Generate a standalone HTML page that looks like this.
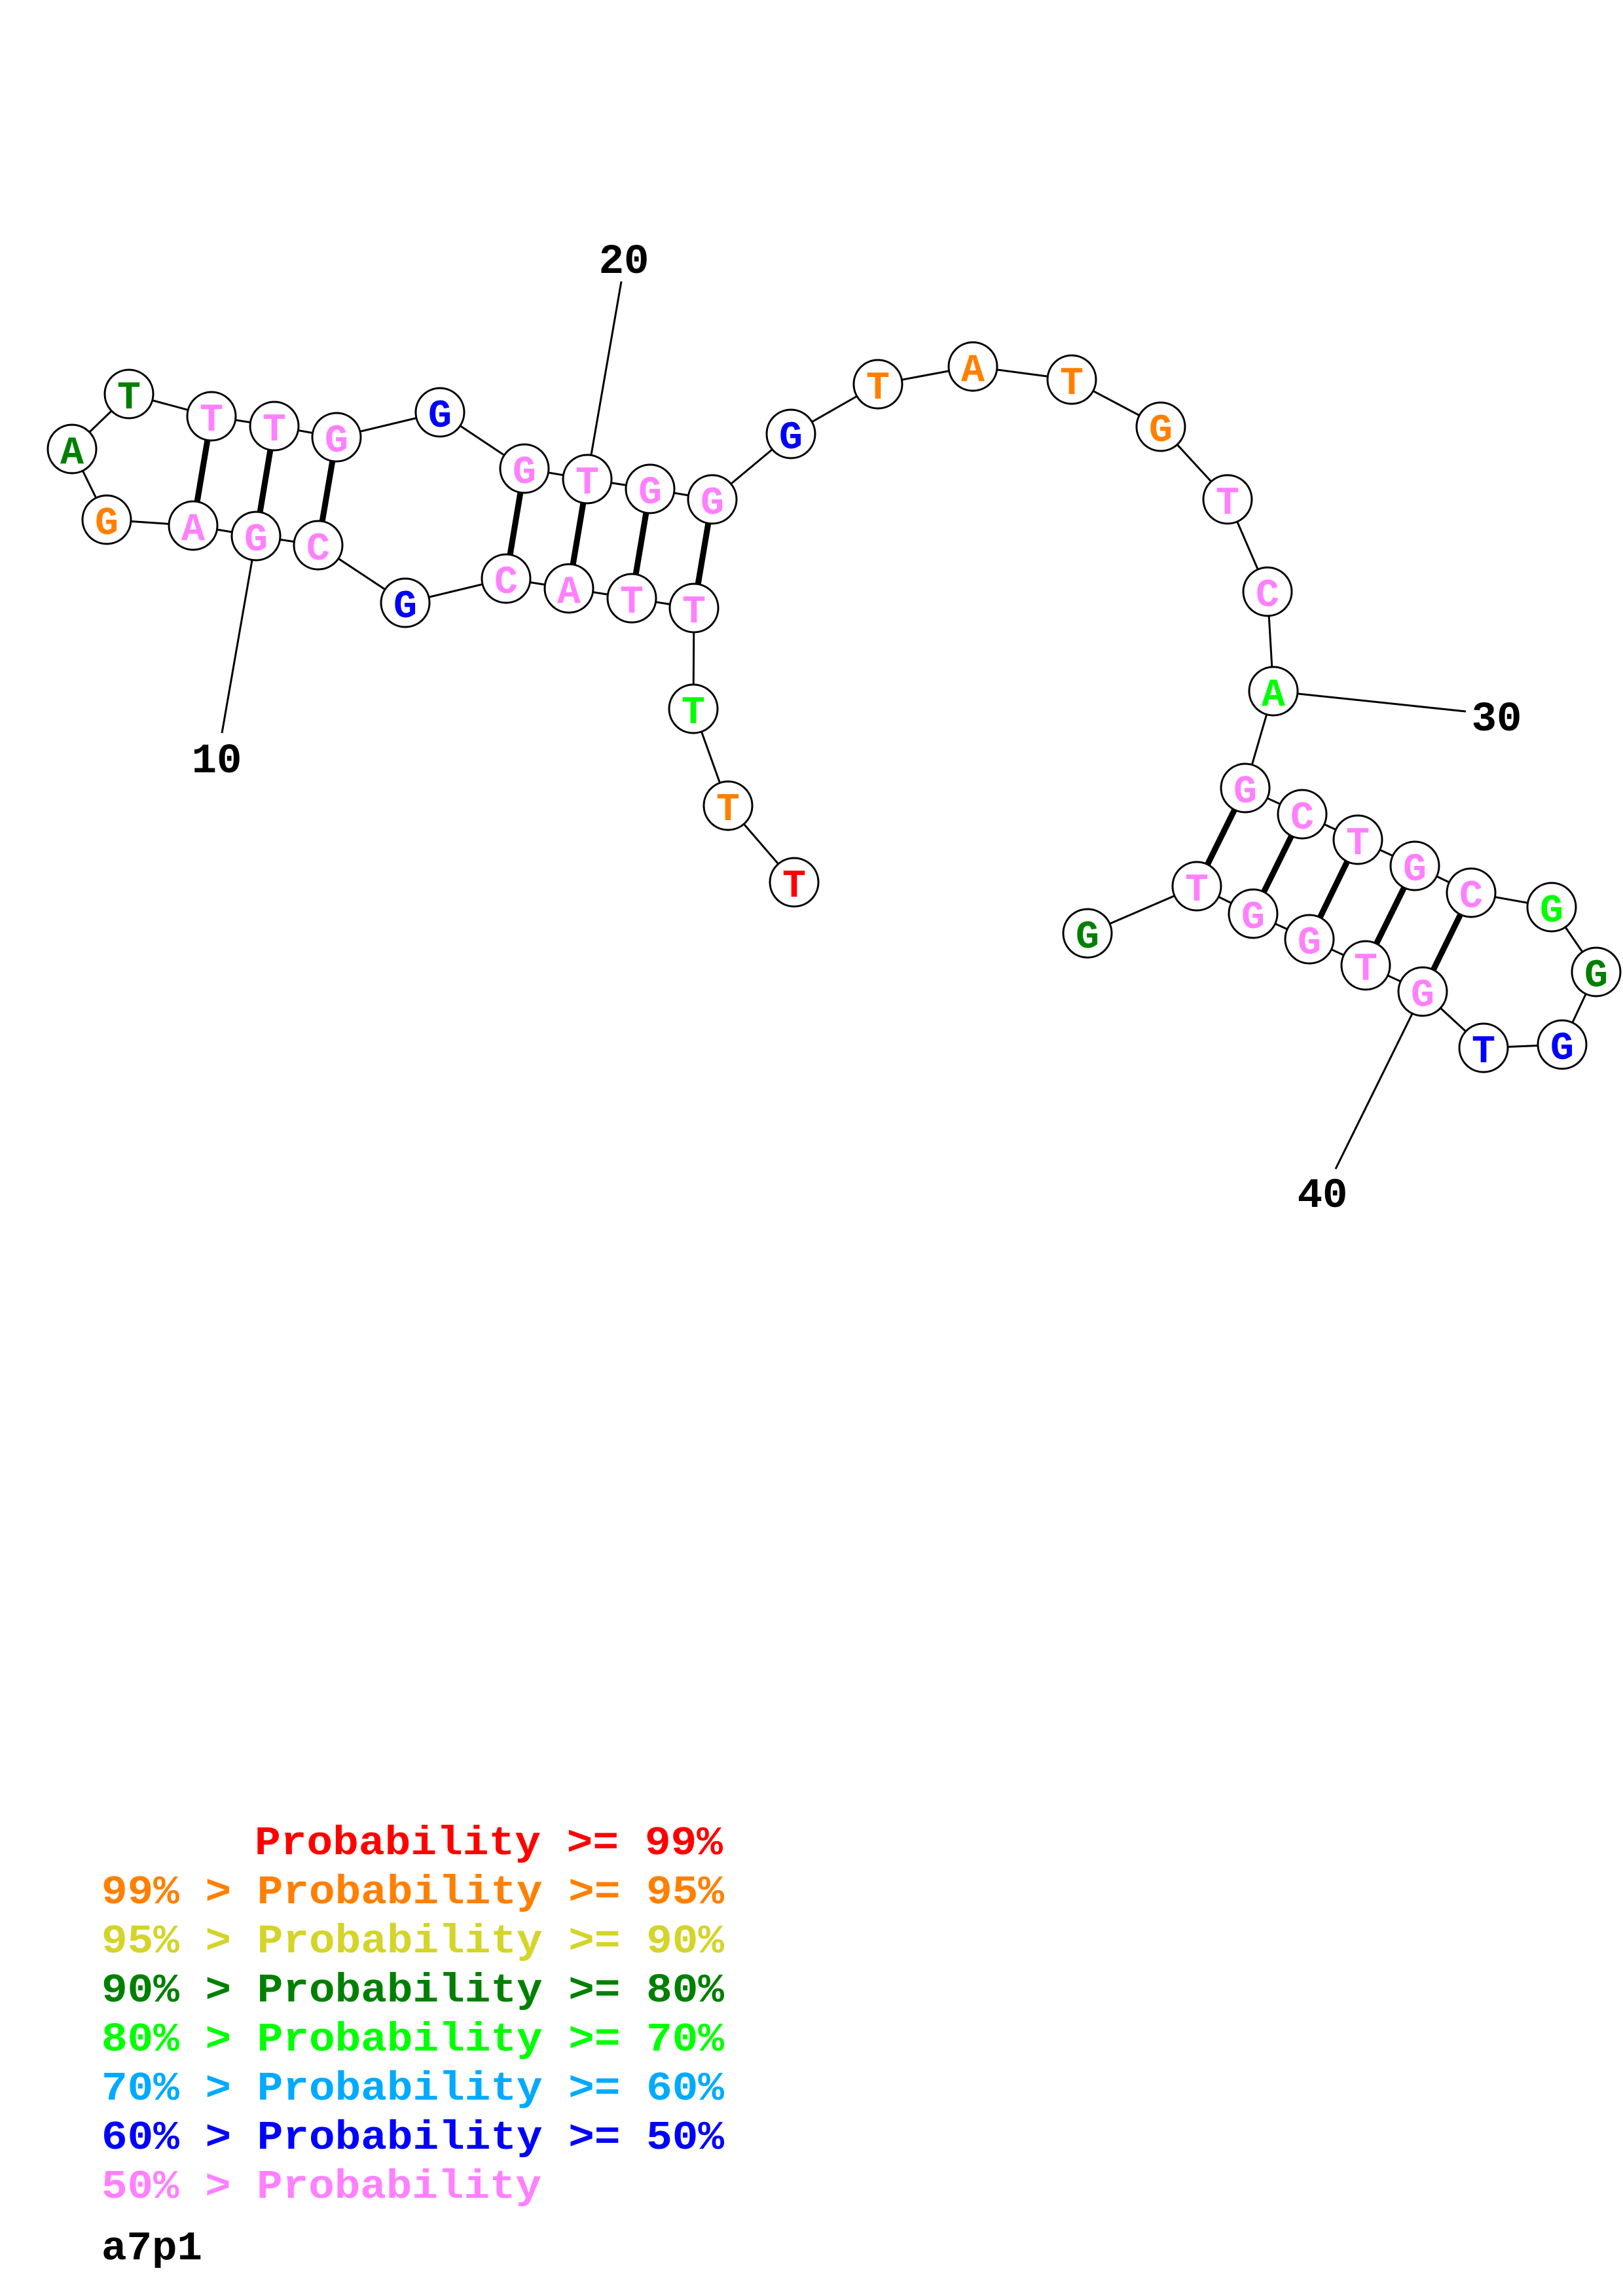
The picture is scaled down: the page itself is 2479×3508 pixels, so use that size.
<!DOCTYPE html>
<html><head><meta charset="utf-8"><style>html,body{margin:0;padding:0;background:#fff}svg{display:block}</style></head>
<body>
<svg xmlns="http://www.w3.org/2000/svg" width="2479" height="3508" viewBox="0 0 2479 3508">
<rect width="2479" height="3508" fill="#fff"/>
<g stroke="#000" stroke-width="3" fill="none">
<polyline points="1213,1348 1112,1231 1059,1083 1060,929 965,914 869,899 773,884 619,921 486,833 391,819 295,803 163,794 110,686 197,602 323,636 419,651 514,668 672,630 801,716 897,732 993,747 1088,763 1208,663 1341,587 1486,560 1637,580 1773,652 1875,763 1936,904 1945,1056 1902,1204 1989,1244 2074,1283 2161,1323 2247,1364 2370,1386 2438,1485 2386,1596 2266,1601 2173,1515 2086,1475 2000,1435 1914,1396 1828,1354 1661,1426"/>
<line x1="949" y1="430" x2="903" y2="695"/>
<line x1="339" y1="1120" x2="385" y2="856"/>
<line x1="1945" y1="1056" x2="2239" y2="1087"/>
<line x1="2040" y1="1786" x2="2157" y2="1549"/>
</g>
<g stroke="#000" stroke-width="9">
<line x1="323" y1="636" x2="295" y2="803"/>
<line x1="419" y1="651" x2="391" y2="819"/>
<line x1="514" y1="668" x2="486" y2="833"/>
<line x1="801" y1="716" x2="773" y2="884"/>
<line x1="897" y1="732" x2="869" y2="899"/>
<line x1="993" y1="747" x2="965" y2="914"/>
<line x1="1088" y1="763" x2="1060" y2="929"/>
<line x1="1902" y1="1204" x2="1828" y2="1354"/>
<line x1="1989" y1="1244" x2="1914" y2="1396"/>
<line x1="2074" y1="1283" x2="2000" y2="1435"/>
<line x1="2161" y1="1323" x2="2086" y2="1475"/>
<line x1="2247" y1="1364" x2="2173" y2="1515"/>
</g>
<g stroke="#000" stroke-width="3" fill="#fff">
<circle cx="1213" cy="1348" r="37"/><circle cx="1112" cy="1231" r="37"/><circle cx="1059" cy="1083" r="37"/><circle cx="1060" cy="929" r="37"/><circle cx="965" cy="914" r="37"/><circle cx="869" cy="899" r="37"/><circle cx="773" cy="884" r="37"/><circle cx="619" cy="921" r="37"/><circle cx="486" cy="833" r="37"/><circle cx="391" cy="819" r="37"/><circle cx="295" cy="803" r="37"/><circle cx="163" cy="794" r="37"/><circle cx="110" cy="686" r="37"/><circle cx="197" cy="602" r="37"/><circle cx="323" cy="636" r="37"/><circle cx="419" cy="651" r="37"/><circle cx="514" cy="668" r="37"/><circle cx="672" cy="630" r="37"/><circle cx="801" cy="716" r="37"/><circle cx="897" cy="732" r="37"/><circle cx="993" cy="747" r="37"/><circle cx="1088" cy="763" r="37"/><circle cx="1208" cy="663" r="37"/><circle cx="1341" cy="587" r="37"/><circle cx="1486" cy="560" r="37"/><circle cx="1637" cy="580" r="37"/><circle cx="1773" cy="652" r="37"/><circle cx="1875" cy="763" r="37"/><circle cx="1936" cy="904" r="37"/><circle cx="1945" cy="1056" r="37"/><circle cx="1902" cy="1204" r="37"/><circle cx="1989" cy="1244" r="37"/><circle cx="2074" cy="1283" r="37"/><circle cx="2161" cy="1323" r="37"/><circle cx="2247" cy="1364" r="37"/><circle cx="2370" cy="1386" r="37"/><circle cx="2438" cy="1485" r="37"/><circle cx="2386" cy="1596" r="37"/><circle cx="2266" cy="1601" r="37"/><circle cx="2173" cy="1515" r="37"/><circle cx="2086" cy="1475" r="37"/><circle cx="2000" cy="1435" r="37"/><circle cx="1914" cy="1396" r="37"/><circle cx="1828" cy="1354" r="37"/><circle cx="1661" cy="1426" r="37"/>
</g>
<g font-family="'Liberation Mono', monospace" font-weight="bold" font-size="60" text-anchor="middle">
<text x="1213" y="1370" fill="#ff0000">T</text>
<text x="1112" y="1253" fill="#ff8000">T</text>
<text x="1059" y="1105" fill="#00ff00">T</text>
<text x="1060" y="951" fill="#ff80ff">T</text>
<text x="965" y="936" fill="#ff80ff">T</text>
<text x="869" y="921" fill="#ff80ff">A</text>
<text x="773" y="906" fill="#ff80ff">C</text>
<text x="619" y="943" fill="#0000ff">G</text>
<text x="486" y="855" fill="#ff80ff">C</text>
<text x="391" y="841" fill="#ff80ff">G</text>
<text x="295" y="825" fill="#ff80ff">A</text>
<text x="163" y="816" fill="#ff8000">G</text>
<text x="110" y="708" fill="#008000">A</text>
<text x="197" y="624" fill="#008000">T</text>
<text x="323" y="658" fill="#ff80ff">T</text>
<text x="419" y="673" fill="#ff80ff">T</text>
<text x="514" y="690" fill="#ff80ff">G</text>
<text x="672" y="652" fill="#0000ff">G</text>
<text x="801" y="738" fill="#ff80ff">G</text>
<text x="897" y="754" fill="#ff80ff">T</text>
<text x="993" y="769" fill="#ff80ff">G</text>
<text x="1088" y="785" fill="#ff80ff">G</text>
<text x="1208" y="685" fill="#0000ff">G</text>
<text x="1341" y="609" fill="#ff8000">T</text>
<text x="1486" y="582" fill="#ff8000">A</text>
<text x="1637" y="602" fill="#ff8000">T</text>
<text x="1773" y="674" fill="#ff8000">G</text>
<text x="1875" y="785" fill="#ff80ff">T</text>
<text x="1936" y="926" fill="#ff80ff">C</text>
<text x="1945" y="1078" fill="#00ff00">A</text>
<text x="1902" y="1226" fill="#ff80ff">G</text>
<text x="1989" y="1266" fill="#ff80ff">C</text>
<text x="2074" y="1305" fill="#ff80ff">T</text>
<text x="2161" y="1345" fill="#ff80ff">G</text>
<text x="2247" y="1386" fill="#ff80ff">C</text>
<text x="2370" y="1408" fill="#00ff00">G</text>
<text x="2438" y="1507" fill="#008000">G</text>
<text x="2386" y="1618" fill="#0000ff">G</text>
<text x="2266" y="1623" fill="#0000ff">T</text>
<text x="2173" y="1537" fill="#ff80ff">G</text>
<text x="2086" y="1497" fill="#ff80ff">T</text>
<text x="2000" y="1457" fill="#ff80ff">G</text>
<text x="1914" y="1418" fill="#ff80ff">G</text>
<text x="1828" y="1376" fill="#ff80ff">T</text>
<text x="1661" y="1448" fill="#008000">G</text>
</g>
<g font-family="'Liberation Mono', monospace" font-weight="bold" font-size="64" text-anchor="middle" fill="#000">
<text x="953" y="417">20</text>
<text x="331" y="1180">10</text>
<text x="2286" y="1116">30</text>
<text x="2020" y="1844">40</text>
</g>
<g font-family="'Liberation Mono', monospace" font-weight="bold" font-size="62" xml:space="preserve">
<text x="389" y="2833" fill="#ff0000" textLength="715" lengthAdjust="spacingAndGlyphs">Probability &gt;= 99%</text>
<text x="155" y="2908" fill="#ff8000" textLength="951" lengthAdjust="spacingAndGlyphs">99% &gt; Probability &gt;= 95%</text>
<text x="155" y="2983" fill="#d4d42a" textLength="951" lengthAdjust="spacingAndGlyphs">95% &gt; Probability &gt;= 90%</text>
<text x="155" y="3058" fill="#008000" textLength="951" lengthAdjust="spacingAndGlyphs">90% &gt; Probability &gt;= 80%</text>
<text x="155" y="3133" fill="#00ff00" textLength="951" lengthAdjust="spacingAndGlyphs">80% &gt; Probability &gt;= 70%</text>
<text x="155" y="3208" fill="#00aaff" textLength="951" lengthAdjust="spacingAndGlyphs">70% &gt; Probability &gt;= 60%</text>
<text x="155" y="3283" fill="#0000ff" textLength="951" lengthAdjust="spacingAndGlyphs">60% &gt; Probability &gt;= 50%</text>
<text x="155" y="3358" fill="#ff80ff" textLength="672" lengthAdjust="spacingAndGlyphs">50% &gt; Probability</text>
<text x="155" y="3452" fill="#000" textLength="154" lengthAdjust="spacingAndGlyphs">a7p1</text>
</g>
</svg>
</body></html>
